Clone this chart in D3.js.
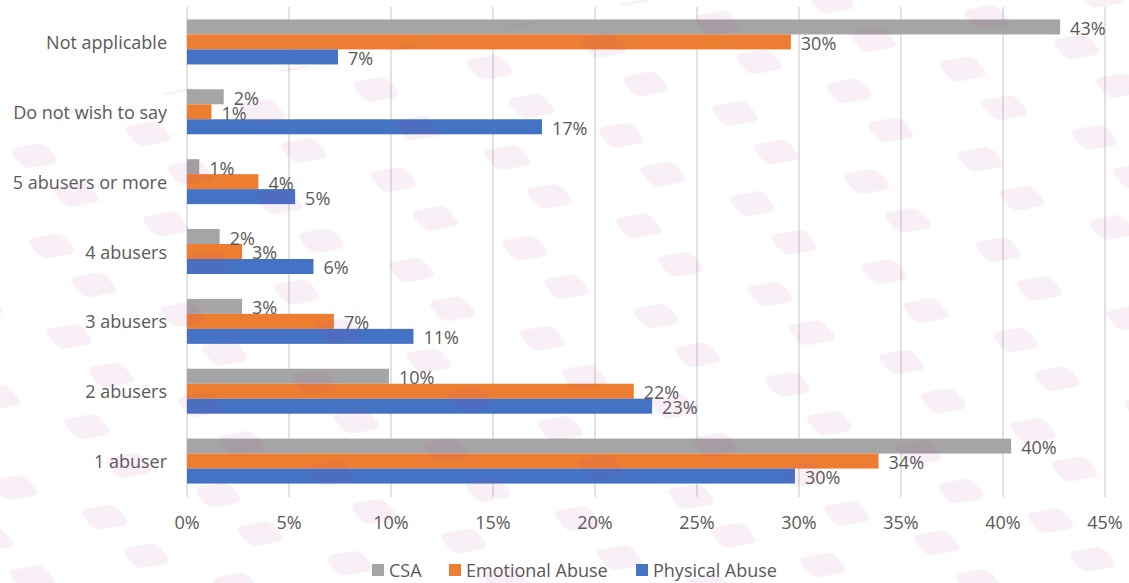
<!DOCTYPE html>
<html>
<head>
<meta charset="utf-8">
<script src="https://cdn.jsdelivr.net/npm/d3@7/dist/d3.min.js"></script>
<style>
  html, body { margin: 0; padding: 0; background: #fff; }
  svg { display: block; }
  text { font-family: "Open Sans", "Noto Sans", sans-serif; fill: #595959; }
</style>
</head>
<body>
<svg id="chart" width="1129" height="583"></svg>
<script>
// Number of abusers reported, by type of abuse (percent of respondents)
const categories = ["Not applicable", "Do not wish to say", "5 abusers or more", "4 abusers", "3 abusers", "2 abusers", "1 abuser"];
const seriesNames = ["CSA", "Emotional Abuse", "Physical Abuse"];
const csa = [42.8, 1.8, 0.6, 1.6, 2.7, 9.9, 40.4];
const emotional = [29.6, 1.2, 3.5, 2.7, 7.2, 21.9, 33.9];
const physical = [7.4, 17.4, 5.3, 6.2, 11.1, 22.8, 29.8];
const tickValues = [0, 5, 10, 15, 20, 25, 30, 35, 40, 45];
const colors = ["#a5a5a5", "#ed7d31", "#4472c4"];

const seriesValues = [csa, emotional, physical];
const svg = d3.select("#chart");
const FS = 18;

// Decorative tiled background of soft pink rounded parallelograms
const defs = svg.append("defs");
const pat = defs.append("pattern")
  .attr("id", "tiles")
  .attr("patternUnits", "userSpaceOnUse")
  .attr("width", 116).attr("height", 92)
  .attr("patternTransform", "rotate(-11)");
[[0, 0], [58, 46], [58, -46], [-58, 46], [116, 0], [0, 92], [116, 92], [-58, -46]].forEach(([dx, dy]) => {
  pat.append("rect")
    .attr("x", dx + 8).attr("y", dy + 10)
    .attr("width", 36).attr("height", 23)
    .attr("rx", 7)
    .attr("transform", "skewX(28)")
    .attr("fill", "#b34a9c");
});
const mask = defs.append("mask").attr("id", "tileMask");
mask.append("rect").attr("width", 1129).attr("height", 583).attr("fill", "#fff");
mask.append("polygon").attr("points", "0,0 640,0 0,125").attr("fill", "#000");

const x = d3.scaleLinear().domain([0, 45]).range([187, 1105]);
const y = d3.scaleBand().domain(categories).range([7, 496])
  .paddingInner(0.356).paddingOuter(0.178);
const ySub = d3.scaleBand().domain(seriesNames).range([0, y.bandwidth()]);

// Vertical gridlines
svg.append("g").selectAll("line")
  .data(tickValues)
  .join("line")
  .attr("x1", d => x(d)).attr("x2", d => x(d))
  .attr("y1", 7).attr("y2", 497)
  .attr("stroke", "#d9d9d9").attr("stroke-width", 1.5);

// Bars
const groups = svg.append("g").selectAll("g")
  .data(categories)
  .join("g")
  .attr("transform", d => `translate(0,${y(d)})`);

groups.each(function(cat, i) {
  const g = d3.select(this);
  seriesNames.forEach((s, k) => {
    const v = seriesValues[k][i];
    g.append("rect")
      .attr("x", x(0))
      .attr("y", ySub(s))
      .attr("width", x(v) - x(0))
      .attr("height", ySub.bandwidth())
      .attr("fill", colors[k]);
  });
});

// Data labels
groups.each(function(cat, i) {
  const g = d3.select(this);
  seriesNames.forEach((s, k) => {
    const v = seriesValues[k][i];
    g.append("text")
      .attr("x", x(v) + 10)
      .attr("y", ySub(s) + ySub.bandwidth() / 2 + 1)
      .attr("dominant-baseline", "central")
      .attr("font-size", FS)
      .text(Math.round(v) + "%");
  });
});

// Category axis labels
svg.append("g").selectAll("text")
  .data(categories)
  .join("text")
  .attr("x", 167)
  .attr("y", d => y(d) + y.bandwidth() / 2)
  .attr("text-anchor", "end")
  .attr("dominant-baseline", "central")
  .attr("font-size", FS)
  .text(d => d);

// Value axis tick labels
svg.append("g").selectAll("text")
  .data(tickValues)
  .join("text")
  .attr("x", d => x(d))
  .attr("y", 522)
  .attr("text-anchor", "middle")
  .attr("dominant-baseline", "central")
  .attr("font-size", FS)
  .text(d => d + "%");

// Legend
const legendX = [372, 449, 636];
const leg = svg.append("g").selectAll("g")
  .data(seriesNames)
  .join("g")
  .attr("transform", (d, k) => `translate(${legendX[k]},570)`);
leg.append("rect")
  .attr("x", 0).attr("y", -6)
  .attr("width", 12).attr("height", 12)
  .attr("fill", (d, k) => colors[k]);
leg.append("text")
  .attr("x", 17).attr("y", 0)
  .attr("dominant-baseline", "central")
  .attr("font-size", FS)
  .text(d => d);

// Faint tiled overlay
svg.append("rect")
  .attr("width", 1129).attr("height", 583)
  .attr("fill", "url(#tiles)")
  .attr("mask", "url(#tileMask)")
  .attr("opacity", 0.08)
  .attr("pointer-events", "none");
</script>
</body>
</html>
